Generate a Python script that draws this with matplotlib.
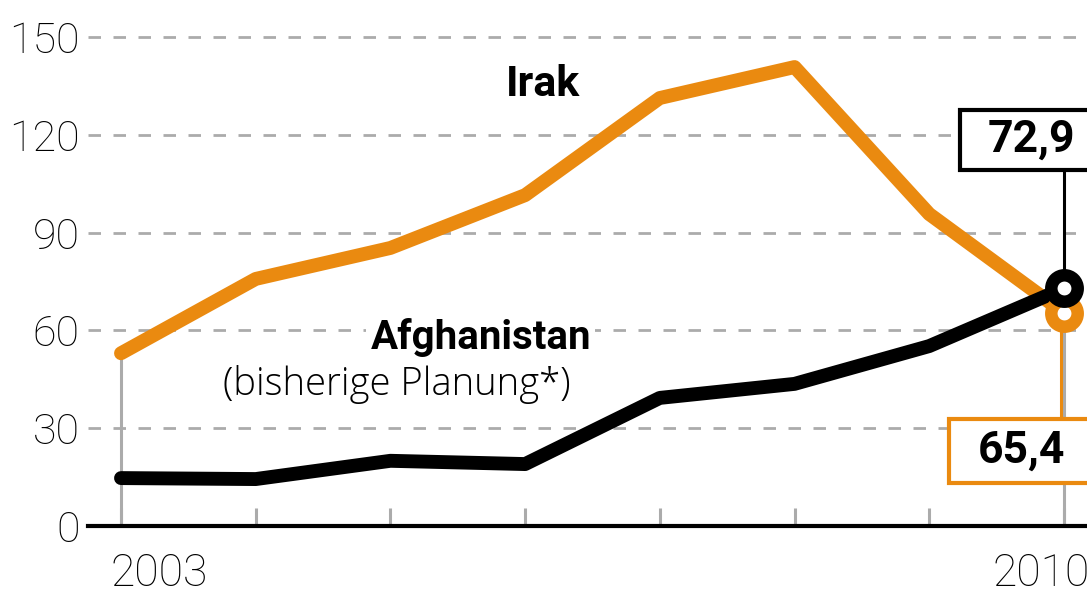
import matplotlib
matplotlib.use("Agg")
import matplotlib.pyplot as plt
from matplotlib.patches import Rectangle

plt.rcParams['font.family'] = ['Roboto', 'DejaVu Sans']

# data (in 1000 soldiers)
years = [2003, 2004, 2005, 2006, 2007, 2008, 2009, 2010]
irak = [53.0, 75.8, 85.3, 101.5, 131.3, 140.8, 95.7, 65.4]
afghanistan = [14.7, 14.4, 20.0, 19.0, 39.3, 43.6, 55.2, 72.9]
y_ticks = [0, 30, 60, 90, 120, 150]
year_labels = ['2003', '2010']

ORANGE = '#EA8A10'
GREY = '#ABABAB'

fig = plt.figure(figsize=(10.87, 5.95), dpi=100)
ax = fig.add_axes([88 / 1087, 69 / 595, 999 / 1087, 516 / 595])
ax.set_xlim(2002.755, 2010.171)
ax.set_ylim(0, 158.3)

for s in ['top', 'right', 'left']:
    ax.spines[s].set_visible(False)
ax.spines['bottom'].set_linewidth(3)
ax.spines['bottom'].set_zorder(6)

# dashed gridlines
for v in y_ticks[1:]:
    ax.axhline(v, color=GREY, lw=2, dashes=(4.5, 4.5), zorder=1)

ax.set_yticks(y_ticks)
ax.set_yticklabels([str(v) for v in y_ticks], fontsize=31, fontweight='light')
ax.tick_params(axis='y', length=0, pad=6)

ax.set_xticks(years)
ax.set_xticklabels([])
ax.tick_params(axis='x', direction='in', length=13, width=2.2, color=GREY)

# year labels
for yr, lab in zip([years[0], years[-1]], year_labels):
    xpos = yr - 0.08 if yr == years[0] else yr - 0.53
    ax.text(xpos, -0.093, lab, transform=ax.get_xaxis_transform(),
            ha='left', va='center', fontsize=32, fontweight='light')

# grey vertical lines at first and last year
ax.plot([years[0], years[0]], [0, irak[0]], color=GREY, lw=2.2, zorder=2)
ax.plot([years[-1], years[-1]], [0, irak[-1]], color=GREY, lw=2.2, zorder=2)

# series
ax.plot(years, irak, color=ORANGE, lw=10, solid_capstyle='round',
        solid_joinstyle='round', zorder=3)
ax.plot(years, afghanistan, color='black', lw=10, solid_capstyle='round',
        solid_joinstyle='round', zorder=4)

# end markers
ax.plot(years[-1], irak[-1], 'o', ms=19, mew=9, mfc='white', mec=ORANGE,
        zorder=5, clip_on=False)
ax.plot(years[-1], afghanistan[-1], 'o', ms=19, mew=9, mfc='white', mec='black',
        zorder=5, clip_on=False)

# value boxes
ax.plot([years[-1], years[-1]], [afghanistan[-1], 109.2], color='black', lw=2.2, zorder=4.5)
ax.add_patch(Rectangle((2009.23, 109.2), 1.2, 18.5, facecolor='white',
                       edgecolor='black', lw=3, zorder=6, clip_on=False))
ax.text(2009.43, 118.5, '72,9', ha='left', va='center',
        fontsize=32, fontweight='bold', zorder=7)

ax.plot([years[-1] - 0.02, years[-1] - 0.02], [irak[-1], 32.8], color=ORANGE, lw=2.2, zorder=4.5)
ax.add_patch(Rectangle((2009.15, 13.2), 1.3, 19.6, facecolor='white',
                       edgecolor=ORANGE, lw=3, zorder=6, clip_on=False))
ax.text(2009.36, 23.0, '65,4', ha='left', va='center',
        fontsize=32, fontweight='bold', zorder=7)

# series labels
ax.text(2006.13, 135.3, 'Irak', ha='center', va='center', fontsize=31,
        fontweight='bold', zorder=7)
ax.text(2005.67, 57.7, 'Afghanistan', ha='center', va='center', fontsize=29,
        fontweight='bold', zorder=7,
        bbox=dict(facecolor='white', edgecolor='none', pad=3))
ax.text(2005.05, 43.3, '(bisherige Planung*)', ha='center', va='center',
        fontsize=27.5, fontweight='light', family=['Open Sans', 'DejaVu Sans'],
        zorder=7)

fig.savefig('out.png', dpi=100)
